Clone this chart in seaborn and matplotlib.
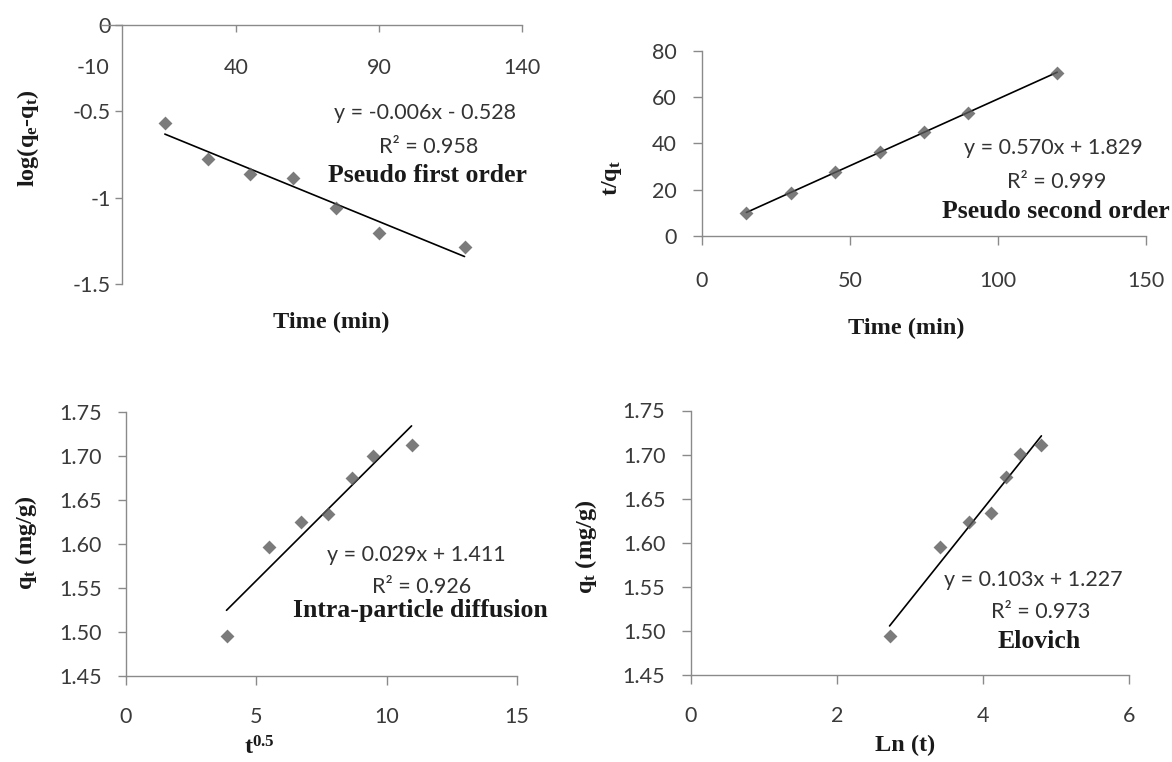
import matplotlib
matplotlib.use("Agg")
import matplotlib.pyplot as plt
import seaborn as sns

# ---------------- data ----------------
time_min = [15, 30, 45, 60, 75, 90, 120]
log_qe_qt = [-0.569, -0.778, -0.865, -0.888, -1.061, -1.206, -1.284]
t_over_qt = [9.8, 18.7, 27.8, 36.4, 45.0, 53.2, 70.5]
sqrt_t = [3.87, 5.50, 6.74, 7.77, 8.68, 9.50, 10.96]
qt_ipd = [1.495, 1.597, 1.625, 1.634, 1.675, 1.700, 1.713]
ln_t = [2.72, 3.41, 3.81, 4.11, 4.32, 4.50, 4.80]
qt_elovich = [1.494, 1.595, 1.624, 1.634, 1.675, 1.701, 1.711]

tl_xticks = [-10, 40, 90, 140]
tl_yticks = [0, -0.5, -1, -1.5]
tl_yticklabels = ["0", "-0.5", "-1", "-1.5"]
tr_xticks = [0, 50, 100, 150]
tr_yticks = [0, 20, 40, 60, 80]
bl_xticks = [0, 5, 10, 15]
br_xticks = [0, 2, 4, 6]
q_yticks = [1.45, 1.50, 1.55, 1.60, 1.65, 1.70, 1.75]
q_yticklabels = ["1.45", "1.50", "1.55", "1.60", "1.65", "1.70", "1.75"]

equations = ["y = -0.006x - 0.528", "y = 0.570x + 1.829",
             "y = 0.029x + 1.411", "y = 0.103x + 1.227"]
r_squared = ["R\u00b2 = 0.958", "R\u00b2 = 0.999", "R\u00b2 = 0.926", "R\u00b2 = 0.973"]
model_names = ["Pseudo first order", "Pseudo second order",
               "Intra-particle diffusion", "Elovich"]

# ---------------- style ----------------
sns.set_theme(style="white")
plt.rcParams["font.family"] = ["Lato", "DejaVu Sans"]
plt.rcParams["axes.unicode_minus"] = False
plt.rcParams["mathtext.fontset"] = "custom"
plt.rcParams["mathtext.rm"] = "Liberation Serif:bold"
plt.rcParams["mathtext.bf"] = "Liberation Serif:bold"
plt.rcParams["mathtext.it"] = "Liberation Serif:bold"

W, H = 1172, 762
fig = plt.figure(figsize=(W / 100, H / 100), dpi=100)
fig.patch.set_facecolor("white")

AXIS_COLOR = "#8a8a8a"
TICK_COLOR = "#3a3a3a"
MARKER_COLOR = "#5a5a5a"
SERIF = "Liberation Serif"


def rect(left, top, right, bottom):
    return [left / W, 1 - bottom / H, (right - left) / W, (bottom - top) / H]


def style_axes(ax, ypad, ylen, xpad, xlen):
    for s in ["top", "right"]:
        ax.spines[s].set_visible(False)
    for s in ["left", "bottom"]:
        ax.spines[s].set_color(AXIS_COLOR)
        ax.spines[s].set_linewidth(1.0)
    ax.tick_params(axis="y", direction="out", length=ylen, width=1.0, color=AXIS_COLOR,
                   pad=ypad, labelsize=15.5, labelcolor=TICK_COLOR, left=True)
    ax.tick_params(axis="x", direction="out", length=xlen, width=1.0, color=AXIS_COLOR,
                   pad=xpad, labelsize=15.5, labelcolor=TICK_COLOR, bottom=True)
    ax.grid(False)
    ax.set_facecolor("white")


def draw(ax, x, y):
    sns.regplot(x=x, y=y, ax=ax, ci=None, marker="D", truncate=True,
                scatter_kws=dict(s=50, color=MARKER_COLOR, linewidths=0, zorder=3),
                line_kws=dict(color="black", lw=1.2, zorder=2))


def place_labels(ax, xlabel, xc, ylabel, yc):
    ax.set_xlabel(xlabel, fontsize=17.5, fontweight="bold", family=SERIF, color="#1a1a1a")
    ax.set_ylabel(ylabel, fontsize=17.5, fontweight="bold", family=SERIF, color="#1a1a1a")
    inv = ax.transAxes.inverted()
    xa = inv.transform((xc[0], H - xc[1]))
    ya = inv.transform((yc[0], H - yc[1]))
    ax.xaxis.label.set_va("center")
    ax.yaxis.label.set_va("center")
    ax.xaxis.set_label_coords(xa[0], xa[1])
    ax.yaxis.set_label_coords(ya[0], ya[1])


def annotate(i, centers):
    (x1, y1), (x2, y2), (x3, y3) = centers
    fig.text(x1 / W, 1 - y1 / H, equations[i], ha="center", va="center",
             fontsize=15.5, color="#333333")
    fig.text(x2 / W, 1 - y2 / H, r_squared[i], ha="center", va="center",
             fontsize=15.5, color="#333333")
    fig.text(x3 / W, 1 - y3 / H, model_names[i], ha="center", va="center",
             fontsize=18.5, fontweight="bold", family=SERIF, color="#1a1a1a")


# ---------------- top-left: pseudo first order ----------------
ax1 = fig.add_axes(rect(93.5, 25, 521.6, 284))
draw(ax1, time_min, log_qe_qt)
ax1.set_xlim(-10, 140)
ax1.set_ylim(-1.5, 0)
style_axes(ax1, ypad=3, ylen=5, xpad=19, xlen=5)
ax1.spines["bottom"].set_position(("data", 0))
ax1.spines["left"].set_position(("data", 0))
ax1.spines["bottom"].set_bounds(-7.5, 140)
ax1.set_xticks(tl_xticks)
ax1.set_yticks(tl_yticks)
ax1.set_yticklabels(tl_yticklabels)
ax1.xaxis.get_major_ticks()[0].tick1line.set_visible(False)
place_labels(ax1, "Time (min)", (331, 322),
             r"log(q$_{e}$-q$_{t}$)", (27.7, 138))
annotate(0, [(425.5, 113), (428.4, 147), (427.3, 175)])

# ---------------- top-right: pseudo second order ----------------
ax2 = fig.add_axes(rect(702, 50.7, 1146, 236))
draw(ax2, time_min, t_over_qt)
ax2.set_xlim(0, 150)
ax2.set_ylim(0, 80)
style_axes(ax2, ypad=12, ylen=6.5, xpad=18.5, xlen=6.5)
ax2.set_xticks(tr_xticks)
ax2.set_yticks(tr_yticks)
place_labels(ax2, "Time (min)", (906.5, 328), r"t/q$_{t}$", (612, 178))
annotate(1, [(1053.8, 148), (1056.4, 182), (1055.7, 212)])

# ---------------- bottom-left: intra-particle diffusion ----------------
ax3 = fig.add_axes(rect(125.5, 412, 517, 676))
draw(ax3, sqrt_t, qt_ipd)
ax3.set_xlim(0, 15)
ax3.set_ylim(1.45, 1.75)
style_axes(ax3, ypad=11, ylen=6, xpad=16, xlen=6.5)
ax3.set_xticks(bl_xticks)
ax3.set_yticks(q_yticks)
ax3.set_yticklabels(q_yticklabels)
place_labels(ax3, r"t$^{0.5}$", (259, 748), r"q$_{t}$ (mg/g)", (25.9, 543))
annotate(2, [(416.2, 555), (421.8, 587), (420, 610)])

# ---------------- bottom-right: Elovich ----------------
ax4 = fig.add_axes(rect(691, 410.5, 1129, 675))
draw(ax4, ln_t, qt_elovich)
ax4.set_xlim(0, 6)
ax4.set_ylim(1.45, 1.75)
style_axes(ax4, ypad=12, ylen=6.5, xpad=16, xlen=6.5)
ax4.set_xticks(br_xticks)
ax4.set_yticks(q_yticks)
ax4.set_yticklabels(q_yticklabels)
place_labels(ax4, "Ln (t)", (904.7, 745), r"q$_{t}$ (mg/g)", (585.7, 547))
annotate(3, [(1033, 580), (1040.6, 612), (1038.7, 642)])

fig.savefig("out.png", dpi=100, facecolor="white")
